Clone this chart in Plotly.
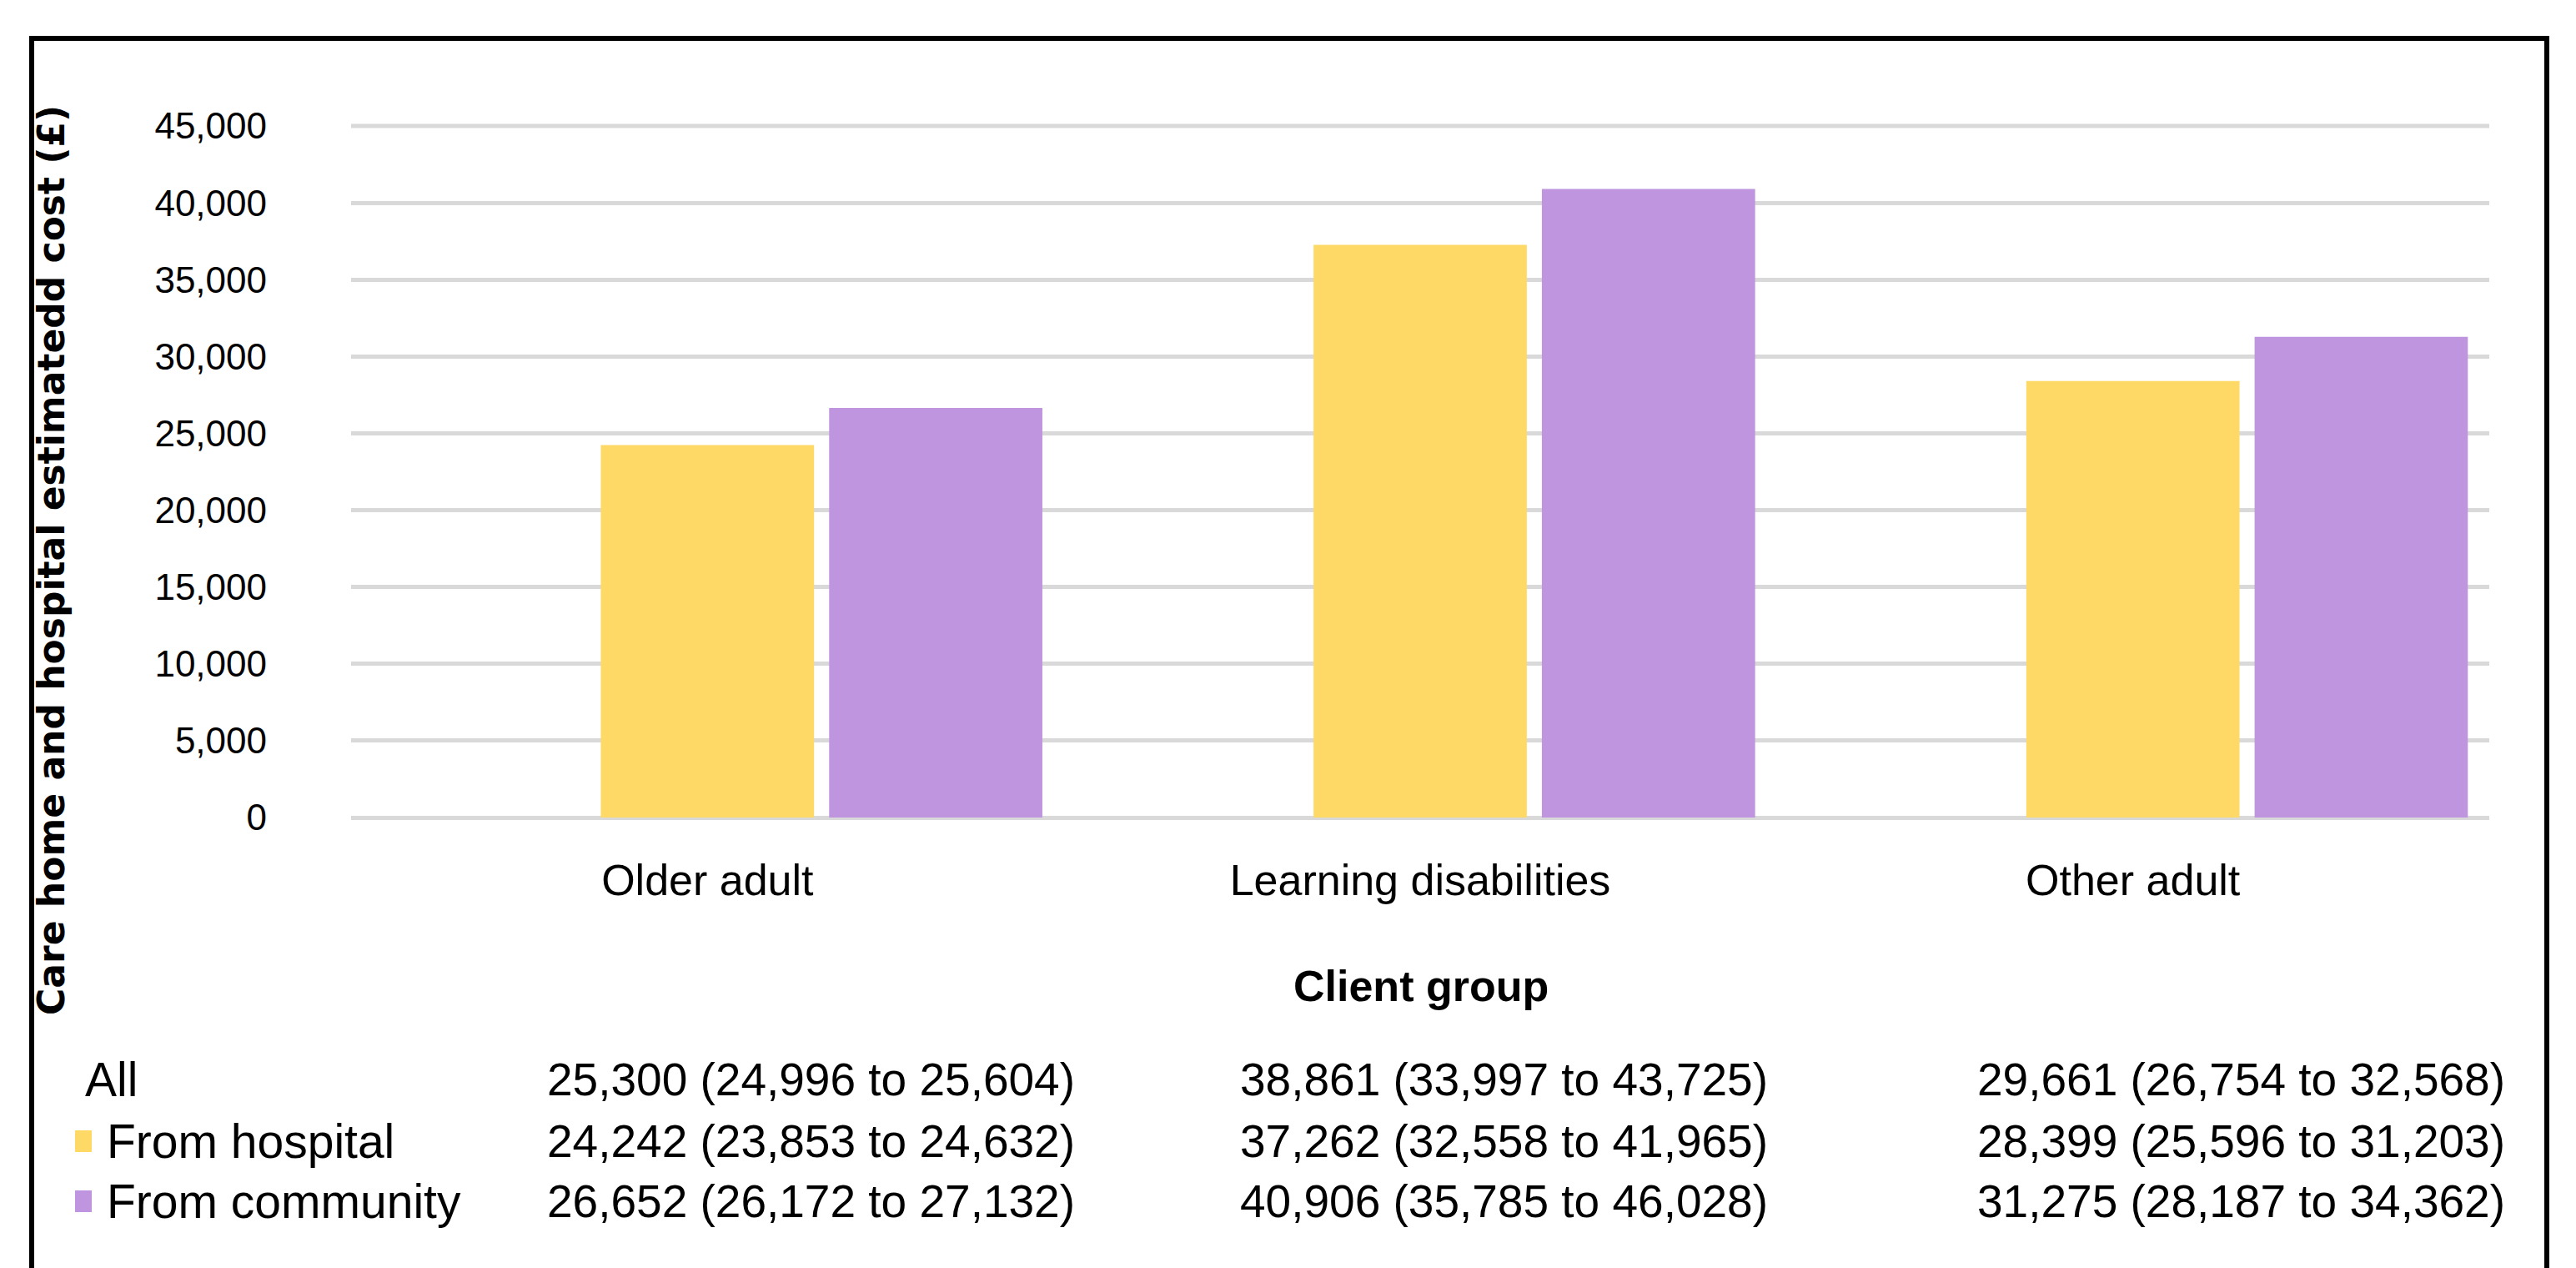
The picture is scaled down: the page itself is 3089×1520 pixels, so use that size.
import plotly.graph_objects as go

# ---------------- data ----------------
categories = ["Older adult", "Learning disabilities", "Other adult"]
series_names = ["All", "From hospital", "From community"]

all_mean = [25300, 38861, 29661]
all_lo = [24996, 33997, 26754]
all_hi = [25604, 43725, 32568]

hosp_mean = [24242, 37262, 28399]
hosp_lo = [23853, 32558, 25596]
hosp_hi = [24632, 41965, 31203]

comm_mean = [26652, 40906, 31275]
comm_lo = [26172, 35785, 28187]
comm_hi = [27132, 46028, 34362]

y_ticks = [0, 5000, 10000, 15000, 20000, 25000, 30000, 35000, 40000, 45000]

y_title = "Care home and hospital estimatedd cost (£)"
x_title = "Client group"

# ---------------- styling ----------------
W, H = 3089, 1520
PL, PR, PT, PB = 421, 2985, 151, 980  # plot area in pixels
YELLOW = "#FED966"
PURPLE = "#BF95DF"
GRID = "#D9D9D9"
FONT = "Liberation Sans, Arial, sans-serif"


def px_x(px):
    return (px - PL) / (PR - PL)


def px_y(py):
    return (PB - py) / (PB - PT)


fig = go.Figure()
fig.add_trace(go.Bar(name=series_names[0], x=categories, y=all_mean,
                     marker=dict(color="rgba(0,0,0,0)", line=dict(width=0)),
                     hoverinfo="skip"))
fig.add_trace(go.Bar(name=series_names[1], x=categories, y=hosp_mean,
                     marker=dict(color=YELLOW, line=dict(width=0))))
fig.add_trace(go.Bar(name=series_names[2], x=categories, y=comm_mean,
                     marker=dict(color=PURPLE, line=dict(width=0))))

fig.update_layout(
    width=W, height=H,
    margin=dict(l=PL, r=W - PR, t=PT, b=H - PB, pad=0),
    paper_bgcolor="white", plot_bgcolor="white",
    barmode="group", bargap=0.039, bargroupgap=0.066,
    showlegend=False,
    font=dict(family=FONT, color="black"),
)
fig.update_yaxes(range=[0, y_ticks[-1]], tickvals=y_ticks, tickformat=",",
                 showgrid=True, gridcolor=GRID, gridwidth=5,
                 zeroline=True, zerolinecolor=GRID, zerolinewidth=5,
                 showline=False, ticks="",
                 tickfont=dict(family=FONT, size=44, color="black"),
                 ticklabelstandoff=100)
fig.update_xaxes(showgrid=False, showline=False, ticks="",
                 tickfont=dict(family=FONT, size=52, color="black"),
                 ticklabelstandoff=40)

# top gridline (plotly omits the gridline that sits on the plot's top edge)
fig.add_shape(type="line", xref="paper", yref="paper", x0=0, x1=1,
              y0=1, y1=1, layer="below",
              line=dict(color=GRID, width=5))

# axis titles
fig.add_annotation(text=y_title, xref="paper", yref="paper",
                   x=px_x(61), y=px_y(672), textangle=-90, showarrow=False,
                   xanchor="center", yanchor="middle",
                   font=dict(family="DejaVu Sans", size=44, color="black", weight="bold"))
fig.add_annotation(text=x_title, xref="paper", yref="paper",
                   x=px_x(1704), y=px_y(1182), showarrow=False,
                   xanchor="center", yanchor="middle",
                   font=dict(family=FONT, size=52, color="black", weight="bold"))

# data table beneath the chart
row_y = [1294, 1368, 1440]
col_x = [972, 1803, 2687]
rows = [(all_mean, all_lo, all_hi), (hosp_mean, hosp_lo, hosp_hi), (comm_mean, comm_lo, comm_hi)]
row_labels = series_names
row_colors = [None, YELLOW, PURPLE]
for r, (means, los, his) in enumerate(rows):
    label_x = 100 if r == 0 else 126
    fig.add_annotation(text=row_labels[r], xref="paper", yref="paper",
                       x=px_x(label_x), y=px_y(row_y[r]), showarrow=False,
                       xanchor="left", yanchor="middle",
                       font=dict(family=FONT, size=57, color="black"))
    if row_colors[r]:
        fig.add_shape(type="rect", xref="paper", yref="paper",
                      x0=px_x(90), x1=px_x(110),
                      y0=px_y(row_y[r] + 13), y1=px_y(row_y[r] - 13),
                      fillcolor=row_colors[r], line=dict(width=0))
    for c in range(len(categories)):
        txt = f"{means[c]:,} ({los[c]:,} to {his[c]:,})"
        fig.add_annotation(text=txt, xref="paper", yref="paper",
                           x=px_x(col_x[c]), y=px_y(row_y[r]), showarrow=False,
                           xanchor="center", yanchor="middle",
                           font=dict(family=FONT, size=55, color="black"))

# outer border (bottom edge lies outside the picture)
fig.add_shape(type="rect", xref="paper", yref="paper",
              x0=px_x(38), x1=px_x(3054), y0=px_y(1600), y1=px_y(46),
              line=dict(color="black", width=6), fillcolor="rgba(0,0,0,0)")

fig.write_html("out.html")
